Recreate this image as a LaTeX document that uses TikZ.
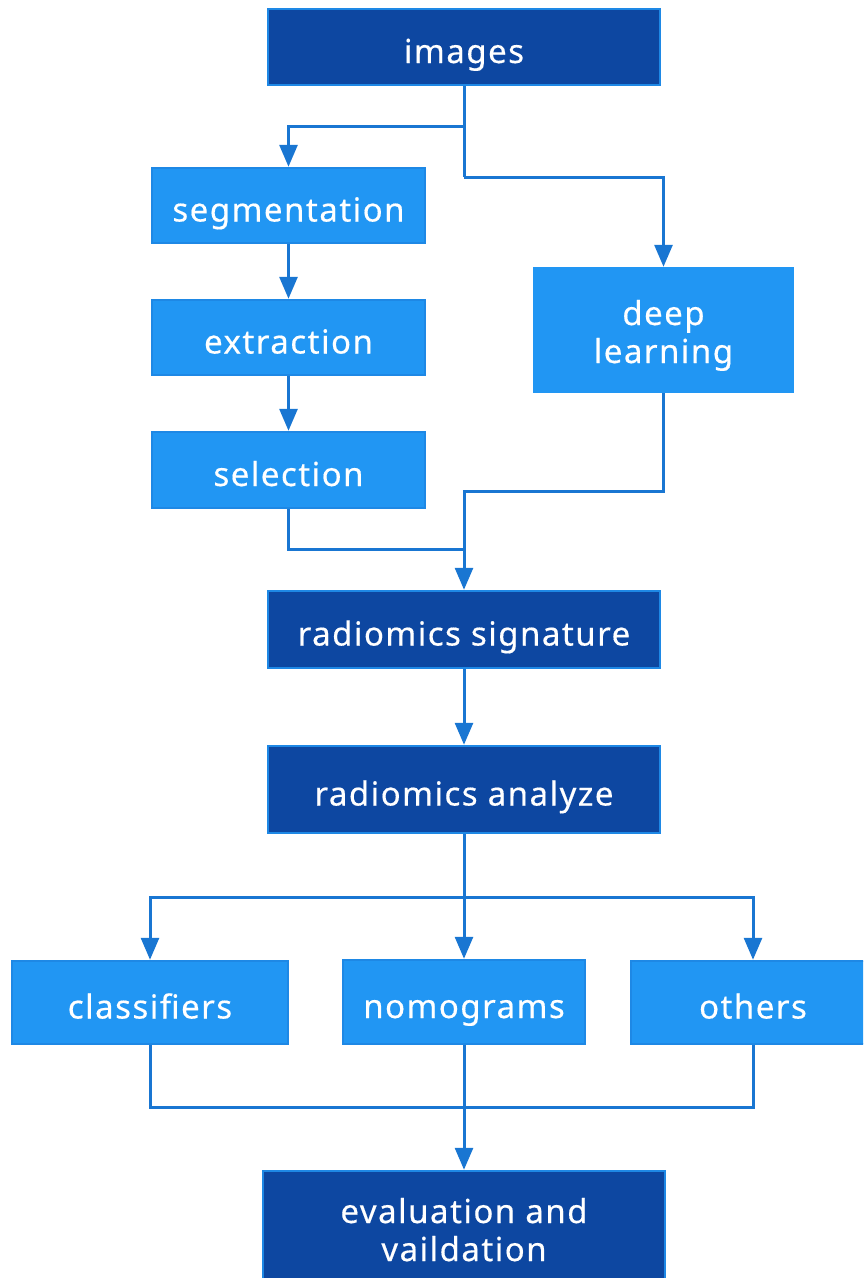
\documentclass[tikz,border=0pt]{standalone}
\usepackage{fontspec}
\setmainfont[LetterSpace=4.5,FakeBold=0.4]{Noto Sans}
\usetikzlibrary{arrows.meta}
\definecolor{darkfill}{HTML}{0D47A1}
\definecolor{darkborder}{HTML}{1E88E5}
\definecolor{lightfill}{HTML}{2196F3}
\definecolor{lightborder}{HTML}{1E88E5}
\definecolor{linecol}{HTML}{1976D2}
\tikzset{
  boxbase/.style={line width=2.5pt, text=white, align=center, inner sep=0pt, text height=34pt, text depth=2pt, font=\fontsize{33}{38}\selectfont},
  twoline/.style={text height=68pt, text depth=2pt},
  darkbox/.style={boxbase, draw=darkborder, fill=darkfill},
  lightbox/.style={boxbase, draw=lightborder, fill=lightfill},
  conn/.style={draw=linecol, line width=3pt},
  arr/.style={conn, -{Triangle[width=18pt,length=22pt]}},
}
\begin{document}
\begin{tikzpicture}[x=1pt,y=-1pt]
\useasboundingbox (0,0) rectangle (863,1278);
\clip (0,0) rectangle (863,1278);
\node[darkbox, minimum width=392pt, minimum height=76pt] (images) at (464,47) {images};
\node[lightbox, minimum width=273pt, minimum height=75pt] (seg) at (288.5,205.5) {segmentation};
\node[lightbox, minimum width=273pt, minimum height=75pt] (ext) at (288.5,337.5) {extraction};
\node[lightbox, minimum width=273pt, minimum height=76pt] (sel) at (288.5,470) {selection};
\node[lightbox, twoline, draw=lightfill, minimum width=259pt, minimum height=124pt] (deep) at (663.5,330) {deep\\learning};
\node[darkbox, minimum width=392pt, minimum height=77pt] (sig) at (464,629.5) {radiomics signature};
\node[darkbox, minimum width=392pt, minimum height=87pt] (ana) at (464,789.5) {radiomics analyze};
\node[lightbox, minimum width=276pt, minimum height=83pt] (cls) at (150,1002.5) {classifiers};
\node[lightbox, minimum width=242pt, minimum height=84pt] (nom) at (464,1002) {nomograms};
\node[lightbox, minimum width=244pt, minimum height=83pt] (oth) at (753,1002.5) {others};
\node[darkbox, twoline, minimum width=402pt, minimum height=114pt] (eval) at (464,1228) {evaluation and\\vaildation};
\coordinate (j1) at (464,126);
\coordinate (j2) at (464,177);
\coordinate (j3) at (464,549);
\coordinate (j4) at (464,491);
\coordinate (j5) at (464,897);
\coordinate (j6) at (464,1107);
\draw[conn] (images.south) -- (j2);
\draw[arr] (j1) -| (seg.north);
\draw[arr] (j2) -| (deep.north);
\draw[arr] (seg.south) -- (ext.north);
\draw[arr] (ext.south) -- (sel.north);
\draw[conn] (sel.south) |- (j3);
\draw[arr] (deep.south) |- (j4) -- (sig.north);
\draw[arr] (sig.south) -- (ana.north);
\draw[conn] (ana.south) -- (j5);
\draw[arr] (j5) -| (cls.north);
\draw[arr] (j5) -| (oth.north);
\draw[arr] (j5) -- (nom.north);
\draw[conn] (cls.south) |- (j6) -| (oth.south);
\draw[arr] (nom.south) -- (eval.north);
\end{tikzpicture}
\end{document}
